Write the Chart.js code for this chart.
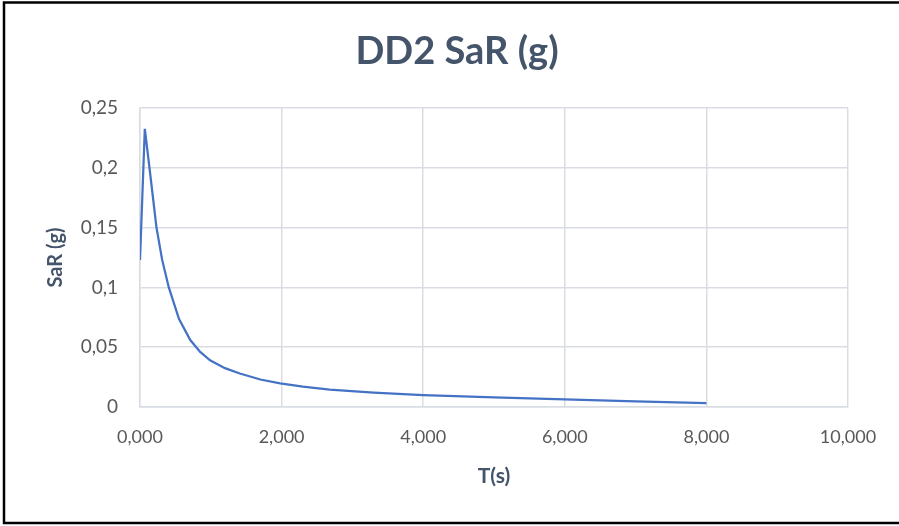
<!DOCTYPE html>
<html>
<head>
<meta charset="utf-8">
<script src="https://cdn.jsdelivr.net/npm/chart.js"></script>
<style>
  html, body { margin: 0; padding: 0; background: #fff; }
  #wrap { width: 899px; height: 526px; position: relative; }
</style>
</head>
<body>
<div id="wrap"><canvas id="myChart" width="899" height="526"></canvas></div>
<script>
// 데이터
const periods = [0, 0.068, 0.134, 0.233, 0.313, 0.407, 0.55, 0.71, 0.85, 0.99, 1.2, 1.41, 1.7, 1.98, 2.3, 2.68, 3.3, 4, 5, 6, 7, 8];
const sarValues = [0.123, 0.2326, 0.200, 0.150, 0.123, 0.100, 0.0737, 0.056, 0.046, 0.039, 0.0325, 0.028, 0.023, 0.0198, 0.017, 0.0146, 0.012, 0.0099, 0.008, 0.0063, 0.0046, 0.0032];
const xTicks = [0, 2, 4, 6, 8, 10];
const yTicks = [0, 0.05, 0.1, 0.15, 0.2, 0.25];
const chartTitle = 'DD2 SaR (g)';

const points = periods.map((t, i) => ({ x: t, y: sarValues[i] }));

const textColor = '#44546A';
const tickColor = '#595959';
const gridColor = '#D9DDE3';
const fontFamily = 'Lato, "Open Sans", sans-serif';

// 제목 + 바깥 테두리
const frame = {
  id: 'frame',
  afterDraw(chart) {
    const c = chart.ctx;
    c.save();
    c.fillStyle = textColor;
    c.font = 'bold 38px ' + fontFamily;
    c.textAlign = 'center';
    c.textBaseline = 'middle';
    c.fillText(chartTitle, 457, 52);

    c.strokeStyle = '#000';
    c.lineWidth = 2.5;
    c.beginPath();
    c.moveTo(902, 2.5);
    c.lineTo(4, 2.5);
    c.lineTo(4, 523);
    c.lineTo(902, 523);
    c.stroke();
    c.restore();
  }
};

let ctx = document.getElementById('myChart').getContext('2d');
let myChart = new Chart(ctx, {
  type: 'scatter',
  data: {
    datasets: [{
      label: 'SaR (g)',
      data: points,
      showLine: true,
      borderColor: '#4472C4',
      borderWidth: 2.25,
      pointRadius: 0,
      tension: 0,
      fill: false
    }]
  },
  options: {
    responsive: false,
    animation: false,
    layout: { padding: { left: 40, right: 51, top: 108, bottom: 33 } },
    plugins: {
      legend: { display: false },
      tooltip: { enabled: false },
      title: { display: false }
    },
    scales: {
      x: {
        type: 'linear',
        min: 0,
        max: 10,
        afterBuildTicks: s => { s.ticks = xTicks.map(v => ({ value: v })); },
        afterFit: s => { s.height = 86; },
        ticks: {
          color: tickColor,
          font: { family: fontFamily, size: 18 },
          padding: 19,
          callback: v => v.toFixed(3).replace('.', ',')
        },
        grid: { color: gridColor, lineWidth: 1.5, drawTicks: false },
        border: { color: gridColor, width: 1.5 },
        title: {
          display: true,
          text: 'T(s)',
          color: textColor,
          font: { family: fontFamily, size: 21, weight: 'bold' }
        }
      },
      y: {
        min: 0,
        max: 0.25,
        afterBuildTicks: s => { s.ticks = yTicks.map(v => ({ value: v })); },
        afterFit: s => { s.width = 100; },
        ticks: {
          color: tickColor,
          font: { family: fontFamily, size: 19 },
          padding: 22,
          callback: v => String(+v.toFixed(2)).replace('.', ',')
        },
        grid: { color: gridColor, lineWidth: 1.5, drawTicks: false },
        border: { color: gridColor, width: 1.5 },
        title: {
          display: true,
          text: 'SaR (g)',
          color: textColor,
          font: { family: fontFamily, size: 20, weight: 'bold' }
        }
      }
    }
  },
  plugins: [frame]
});
</script>
</body>
</html>
